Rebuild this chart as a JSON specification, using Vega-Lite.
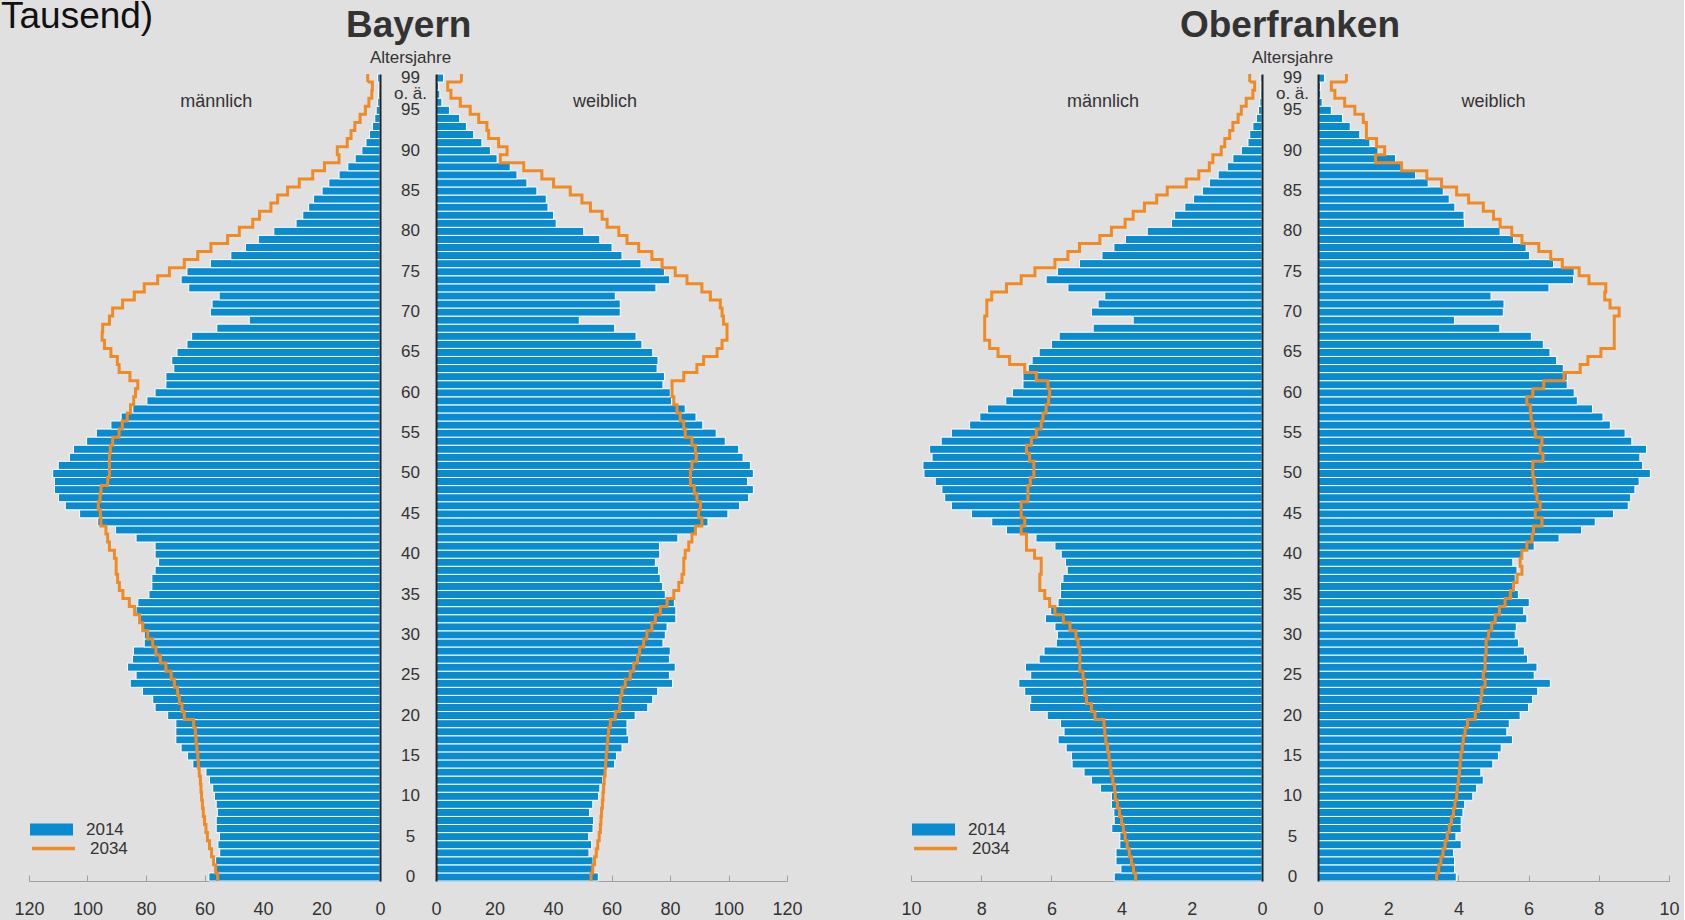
{
"$schema": "https://vega.github.io/schema/vega-lite/v6.json",
"background": "#e0e0e0",
"padding": {"left": 0, "top": -2, "right": 4, "bottom": 4},
"config": {"font": "Liberation Sans", "view": {"stroke": null}, "tick": {"bandSize": 8.07, "thickness": 3}},
"title": {"text": "Tausend)", "anchor": "start", "fontSize": 37, "fontWeight": "normal", "color": "#111111", "offset": -29, "dx": -13},
"datasets": {
"bay": [
{"age":0,"m14":58.5,"m34":55.5,"w14":55.5,"w34":53},
{"age":1,"m14":56.2,"m34":56.2,"w14":53.7,"w34":53.6},
{"age":2,"m14":56.2,"m34":56.9,"w14":53.7,"w34":54.2},
{"age":3,"m14":54.8,"m34":57.6,"w14":52.3,"w34":54.8},
{"age":4,"m14":55.4,"m34":58.3,"w14":53.2,"w34":55.3},
{"age":5,"m14":54.9,"m34":59,"w14":52.2,"w34":55.8},
{"age":6,"m14":56,"m34":59.5,"w14":53.7,"w34":56.2},
{"age":7,"m14":56,"m34":60,"w14":53.9,"w34":56.4},
{"age":8,"m14":55.6,"m34":60.4,"w14":52.5,"w34":56.6},
{"age":9,"m14":56,"m34":60.7,"w14":53.6,"w34":56.9},
{"age":10,"m14":56.6,"m34":61,"w14":55.6,"w34":57.1},
{"age":11,"m14":57.2,"m34":61.2,"w14":56,"w34":57.3},
{"age":12,"m14":58.3,"m34":61.4,"w14":57,"w34":57.5},
{"age":13,"m14":59.5,"m34":61.8,"w14":57.7,"w34":57.8},
{"age":14,"m14":64,"m34":62.1,"w14":61.1,"w34":58},
{"age":15,"m14":65.8,"m34":62.3,"w14":61.7,"w34":58.2},
{"age":16,"m14":68,"m34":62.6,"w14":63.6,"w34":58.5},
{"age":17,"m14":69.8,"m34":62.9,"w14":65.9,"w34":58.7},
{"age":18,"m14":69.8,"m34":63.1,"w14":65.3,"w34":59},
{"age":19,"m14":69.8,"m34":63.7,"w14":65.3,"w34":59.6},
{"age":20,"m14":72.6,"m34":66.9,"w14":68.1,"w34":61.3},
{"age":21,"m14":76.9,"m34":67.7,"w14":72.4,"w34":62.8},
{"age":22,"m14":77.7,"m34":68.6,"w14":74.1,"w34":63},
{"age":23,"m14":81.2,"m34":69.2,"w14":75.8,"w34":63.6},
{"age":24,"m14":85.4,"m34":70.3,"w14":80.9,"w34":64.7},
{"age":25,"m14":83.4,"m34":71.4,"w14":79.8,"w34":66.4},
{"age":26,"m14":86.3,"m34":73.2,"w14":81.8,"w34":67.6},
{"age":27,"m14":84.6,"m34":75.1,"w14":79.8,"w34":68.9},
{"age":28,"m14":84.3,"m34":76.6,"w14":80.1,"w34":69.6},
{"age":29,"m14":80.6,"m34":77.7,"w14":77.6,"w34":71},
{"age":30,"m14":80.6,"m34":79.4,"w14":78.4,"w34":72.1},
{"age":31,"m14":81.7,"m34":81.1,"w14":79,"w34":73.8},
{"age":32,"m14":82.3,"m34":82.2,"w14":82,"w34":75},
{"age":33,"m14":83.4,"m34":83.9,"w14":82,"w34":76.7},
{"age":34,"m14":82.8,"m34":85.7,"w14":81.5,"w34":79},
{"age":35,"m14":79,"m34":87.9,"w14":78.4,"w34":81.3},
{"age":36,"m14":78,"m34":89.1,"w14":77.5,"w34":83},
{"age":37,"m14":78,"m34":89.7,"w14":76.7,"w34":84.1},
{"age":38,"m14":76.9,"m34":90.2,"w14":76.1,"w34":84.7},
{"age":39,"m14":75.7,"m34":90.2,"w14":75,"w34":84.7},
{"age":40,"m14":76.9,"m34":90.8,"w14":76.5,"w34":85.2},
{"age":41,"m14":76.9,"m34":92.5,"w14":76.4,"w34":86.4},
{"age":42,"m14":83.4,"m34":93.1,"w14":82.7,"w34":87.5},
{"age":43,"m14":90.4,"m34":93.7,"w14":89.2,"w34":88.7},
{"age":44,"m14":96.5,"m34":95.4,"w14":93,"w34":90.9},
{"age":45,"m14":102.7,"m34":95.6,"w14":99.8,"w34":89.8},
{"age":46,"m14":107.6,"m34":96.3,"w14":103.8,"w34":90.4},
{"age":47,"m14":109.9,"m34":95.7,"w14":106.9,"w34":89.2},
{"age":48,"m14":111.3,"m34":95.4,"w14":108.5,"w34":88.3},
{"age":49,"m14":111.3,"m34":93.1,"w14":106.5,"w34":87},
{"age":50,"m14":111.9,"m34":92.5,"w14":108.5,"w34":87},
{"age":51,"m14":110,"m34":92.5,"w14":107.5,"w34":87.5},
{"age":52,"m14":106.2,"m34":92.5,"w14":105,"w34":89},
{"age":53,"m14":104.8,"m34":92.2,"w14":103.5,"w34":88.7},
{"age":54,"m14":100.3,"m34":91.4,"w14":98.9,"w34":87.5},
{"age":55,"m14":97,"m34":89.2,"w14":95.8,"w34":85.2},
{"age":56,"m14":92,"m34":88.1,"w14":91.2,"w34":84.7},
{"age":57,"m14":88.5,"m34":86.4,"w14":88.9,"w34":83.5},
{"age":58,"m14":84.5,"m34":85.3,"w14":85.2,"w34":82.4},
{"age":59,"m14":79.7,"m34":84.2,"w14":80.5,"w34":81.3},
{"age":60,"m14":76.9,"m34":83.6,"w14":80.1,"w34":80.7},
{"age":61,"m14":73.2,"m34":82.8,"w14":77.6,"w34":80.7},
{"age":62,"m14":73.2,"m34":85.5,"w14":78.1,"w34":84.7},
{"age":63,"m14":70.5,"m34":89.2,"w14":75.6,"w34":89.2},
{"age":64,"m14":71.2,"m34":89.8,"w14":75.9,"w34":91.5},
{"age":65,"m14":69.4,"m34":92,"w14":74.1,"w34":96.1},
{"age":66,"m14":66,"m34":94.2,"w14":70.4,"w34":97.8},
{"age":67,"m14":64.4,"m34":95,"w14":68.4,"w34":99.5},
{"age":68,"m14":55.8,"m34":94.8,"w14":61.1,"w34":99.5},
{"age":69,"m14":44.7,"m34":92.5,"w14":49,"w34":98.3},
{"age":70,"m14":58,"m34":91.4,"w14":63,"w34":97.8},
{"age":71,"m14":57.4,"m34":88,"w14":63,"w34":97.2},
{"age":72,"m14":55,"m34":84,"w14":61.3,"w34":93.8},
{"age":73,"m14":65.4,"m34":80.6,"w14":75.2,"w34":90.9},
{"age":74,"m14":68,"m34":76,"w14":79.9,"w34":85.8},
{"age":75,"m14":66,"m34":72,"w14":78.1,"w34":81.8},
{"age":76,"m14":58,"m34":66.9,"w14":70.1,"w34":77.3},
{"age":77,"m14":51,"m34":62.3,"w14":63.6,"w34":73.8},
{"age":78,"m14":46,"m34":57.8,"w14":60.2,"w34":69.3},
{"age":79,"m14":41.6,"m34":52.1,"w14":56,"w34":65.3},
{"age":80,"m14":36.3,"m34":48.1,"w14":50.5,"w34":62.5},
{"age":81,"m14":28.7,"m34":43.5,"w14":41.1,"w34":58.5},
{"age":82,"m14":26.4,"m34":41.2,"w14":40.2,"w34":56.8},
{"age":83,"m14":24.4,"m34":37.3,"w14":38.3,"w34":52.8},
{"age":84,"m14":22.7,"m34":35,"w14":37.7,"w34":49.9},
{"age":85,"m14":19.8,"m34":31.6,"w14":34.5,"w34":45.9},
{"age":86,"m14":17.5,"m34":27.6,"w14":31.1,"w34":40.2},
{"age":87,"m14":14,"m34":23,"w14":27.7,"w34":36.2},
{"age":88,"m14":11,"m34":19,"w14":25.4,"w34":30},
{"age":89,"m14":8.5,"m34":14,"w14":20.9,"w34":22},
{"age":90,"m14":6.2,"m34":14.6,"w14":18.6,"w34":24.3},
{"age":91,"m14":4.8,"m34":11.2,"w14":15.7,"w34":21.4},
{"age":92,"m14":3.6,"m34":9.9,"w14":12.9,"w34":18},
{"age":93,"m14":2.6,"m34":8.6,"w14":10.4,"w34":17.4},
{"age":94,"m14":1.8,"m34":6.8,"w14":8.1,"w34":14.6},
{"age":95,"m14":1.3,"m34":5,"w14":4.6,"w34":11.7},
{"age":96,"m14":0.8,"m34":3.8,"w14":2,"w34":8.3},
{"age":97,"m14":0.5,"m34":2.8,"w14":1.3,"w34":5.1},
{"age":98,"m14":0.3,"m34":2.6,"w14":0.9,"w34":4},
{"age":99,"m14":0.8,"m34":4.2,"w14":2.6,"w34":8.7}
],
"obf": [
{"age":0,"m14":4.21,"m34":3.6,"w14":3.94,"w34":3.38},
{"age":1,"m14":4.02,"m34":3.66,"w14":3.89,"w34":3.44},
{"age":2,"m14":4.16,"m34":3.72,"w14":3.89,"w34":3.5},
{"age":3,"m14":4.16,"m34":3.78,"w14":3.86,"w34":3.56},
{"age":4,"m14":4.05,"m34":3.84,"w14":4.08,"w34":3.62},
{"age":5,"m14":4.05,"m34":3.9,"w14":3.93,"w34":3.68},
{"age":6,"m14":4.28,"m34":3.95,"w14":4.08,"w34":3.74},
{"age":7,"m14":4.21,"m34":4.0,"w14":4.08,"w34":3.8},
{"age":8,"m14":4.22,"m34":4.06,"w14":4.13,"w34":3.86},
{"age":9,"m14":4.29,"m34":4.12,"w14":4.18,"w34":3.9},
{"age":10,"m14":4.29,"m34":4.18,"w14":4.41,"w34":3.95},
{"age":11,"m14":4.6,"m34":4.2,"w14":4.52,"w34":3.97},
{"age":12,"m14":4.86,"m34":4.25,"w14":4.71,"w34":4.0},
{"age":13,"m14":5.07,"m34":4.3,"w14":4.64,"w34":4.03},
{"age":14,"m14":5.41,"m34":4.33,"w14":4.98,"w34":4.05},
{"age":15,"m14":5.43,"m34":4.36,"w14":5.14,"w34":4.07},
{"age":16,"m14":5.58,"m34":4.4,"w14":5.22,"w34":4.11},
{"age":17,"m14":5.81,"m34":4.45,"w14":5.54,"w34":4.14},
{"age":18,"m14":5.64,"m34":4.48,"w14":5.38,"w34":4.19},
{"age":19,"m14":5.74,"m34":4.5,"w14":5.45,"w34":4.26},
{"age":20,"m14":6.12,"m34":4.76,"w14":5.76,"w34":4.48},
{"age":21,"m14":6.62,"m34":4.86,"w14":6.0,"w34":4.57},
{"age":22,"m14":6.59,"m34":5.0,"w14":6.11,"w34":4.64},
{"age":23,"m14":6.76,"m34":5.05,"w14":6.26,"w34":4.67},
{"age":24,"m14":6.93,"m34":5.05,"w14":6.62,"w34":4.76},
{"age":25,"m14":6.59,"m34":5.1,"w14":6.16,"w34":4.71},
{"age":26,"m14":6.74,"m34":5.19,"w14":6.24,"w34":4.76},
{"age":27,"m14":6.35,"m34":5.19,"w14":5.97,"w34":4.76},
{"age":28,"m14":6.21,"m34":5.19,"w14":5.88,"w34":4.79},
{"age":29,"m14":5.86,"m34":5.24,"w14":5.71,"w34":4.79},
{"age":30,"m14":5.83,"m34":5.3,"w14":5.62,"w34":4.86},
{"age":31,"m14":5.9,"m34":5.47,"w14":5.65,"w34":4.95},
{"age":32,"m14":6.17,"m34":5.66,"w14":5.95,"w34":5.05},
{"age":33,"m14":6.02,"m34":5.9,"w14":5.86,"w34":5.17},
{"age":34,"m14":5.81,"m34":6.05,"w14":6.02,"w34":5.33},
{"age":35,"m14":5.74,"m34":6.19,"w14":5.71,"w34":5.48},
{"age":36,"m14":5.74,"m34":6.33,"w14":5.62,"w34":5.57},
{"age":37,"m14":5.67,"m34":6.33,"w14":5.62,"w34":5.67},
{"age":38,"m14":5.55,"m34":6.29,"w14":5.67,"w34":5.81},
{"age":39,"m14":5.6,"m34":6.29,"w14":5.55,"w34":5.76},
{"age":40,"m14":5.72,"m34":6.48,"w14":5.86,"w34":5.81},
{"age":41,"m14":5.9,"m34":6.71,"w14":6.16,"w34":5.95},
{"age":42,"m14":6.44,"m34":6.71,"w14":6.87,"w34":6.1},
{"age":43,"m14":7.28,"m34":6.86,"w14":7.51,"w34":6.14},
{"age":44,"m14":7.7,"m34":6.76,"w14":7.9,"w34":6.38},
{"age":45,"m14":8.28,"m34":6.86,"w14":8.42,"w34":6.19},
{"age":46,"m14":8.85,"m34":6.86,"w14":8.84,"w34":6.33},
{"age":47,"m14":9.04,"m34":6.67,"w14":8.91,"w34":6.24},
{"age":48,"m14":9.12,"m34":6.67,"w14":9.03,"w34":6.19},
{"age":49,"m14":9.31,"m34":6.6,"w14":9.15,"w34":6.16},
{"age":50,"m14":9.63,"m34":6.5,"w14":9.47,"w34":6.12},
{"age":51,"m14":9.66,"m34":6.5,"w14":9.25,"w34":6.12},
{"age":52,"m14":9.4,"m34":6.62,"w14":9.17,"w34":6.41},
{"age":53,"m14":9.47,"m34":6.71,"w14":9.36,"w34":6.33},
{"age":54,"m14":9.14,"m34":6.57,"w14":8.94,"w34":6.38},
{"age":55,"m14":8.85,"m34":6.43,"w14":8.75,"w34":6.19},
{"age":56,"m14":8.33,"m34":6.29,"w14":8.33,"w34":6.12},
{"age":57,"m14":8.04,"m34":6.24,"w14":8.12,"w34":6.07},
{"age":58,"m14":7.82,"m34":6.15,"w14":7.82,"w34":6.05},
{"age":59,"m14":7.3,"m34":6.08,"w14":7.39,"w34":5.95},
{"age":60,"m14":7.11,"m34":6.05,"w14":7.3,"w34":6.12},
{"age":61,"m14":6.81,"m34":6.1,"w14":7.1,"w34":6.43},
{"age":62,"m14":6.81,"m34":6.43,"w14":7.1,"w34":7.01},
{"age":63,"m14":6.66,"m34":6.76,"w14":6.99,"w34":7.47},
{"age":64,"m14":6.55,"m34":7.19,"w14":6.8,"w34":7.69},
{"age":65,"m14":6.35,"m34":7.52,"w14":6.61,"w34":8.06},
{"age":66,"m14":6.0,"m34":7.76,"w14":6.42,"w34":8.44},
{"age":67,"m14":5.78,"m34":7.9,"w14":6.08,"w34":8.44},
{"age":68,"m14":4.81,"m34":7.9,"w14":5.18,"w34":8.44},
{"age":69,"m14":3.67,"m34":7.9,"w14":3.89,"w34":8.44},
{"age":70,"m14":4.86,"m34":7.84,"w14":5.28,"w34":8.58},
{"age":71,"m14":4.67,"m34":7.84,"w14":5.3,"w34":8.32},
{"age":72,"m14":4.48,"m34":7.7,"w14":4.93,"w34":8.17},
{"age":73,"m14":5.53,"m34":7.28,"w14":6.58,"w34":8.2},
{"age":74,"m14":6.15,"m34":6.86,"w14":7.28,"w34":7.72},
{"age":75,"m14":5.83,"m34":6.47,"w14":7.3,"w34":7.44},
{"age":76,"m14":5.2,"m34":5.9,"w14":6.71,"w34":6.96},
{"age":77,"m14":4.56,"m34":5.53,"w14":6.03,"w34":6.63},
{"age":78,"m14":4.22,"m34":5.2,"w14":5.93,"w34":6.29},
{"age":79,"m14":3.89,"m34":4.62,"w14":5.57,"w34":5.81},
{"age":80,"m14":3.27,"m34":4.29,"w14":5.19,"w34":5.52},
{"age":81,"m14":2.58,"m34":3.9,"w14":4.17,"w34":5.19},
{"age":82,"m14":2.49,"m34":3.67,"w14":4.16,"w34":5.0},
{"age":83,"m14":2.2,"m34":3.35,"w14":3.9,"w34":4.71},
{"age":84,"m14":1.95,"m34":3.0,"w14":3.74,"w34":4.29},
{"age":85,"m14":1.7,"m34":2.7,"w14":3.57,"w34":3.95},
{"age":86,"m14":1.5,"m34":2.16,"w14":3.14,"w34":3.52},
{"age":87,"m14":1.25,"m34":1.8,"w14":2.78,"w34":3.1},
{"age":88,"m14":0.99,"m34":1.5,"w14":2.38,"w34":2.38},
{"age":89,"m14":0.83,"m34":1.4,"w14":2.21,"w34":1.64},
{"age":90,"m14":0.59,"m34":1.16,"w14":1.71,"w34":1.9},
{"age":91,"m14":0.4,"m34":1.06,"w14":1.48,"w34":1.67},
{"age":92,"m14":0.35,"m34":0.92,"w14":1.19,"w34":1.38},
{"age":93,"m14":0.26,"m34":0.83,"w14":0.92,"w34":1.38},
{"age":94,"m14":0.16,"m34":0.68,"w14":0.7,"w34":1.29},
{"age":95,"m14":0.1,"m34":0.59,"w14":0.38,"w34":1.05},
{"age":96,"m14":0.06,"m34":0.45,"w14":0.12,"w34":0.76},
{"age":97,"m14":0.04,"m34":0.26,"w14":0.08,"w34":0.48},
{"age":98,"m14":0.03,"m34":0.21,"w14":0.07,"w34":0.38},
{"age":99,"m14":0.05,"m34":0.35,"w14":0.19,"w34":0.81}
]
},
"spacing": 97,
"resolve": {"legend": {"fill": "independent", "stroke": "independent"}},
"hconcat": [
{
"title": {"text": "Bayern", "anchor": "start", "fontSize": 37, "fontWeight": "bold", "color": "#333333", "offset": 3, "dx": 332},
"spacing": 56, "bounds": "flush",
"resolve": {"legend": {"fill": "independent", "stroke": "independent"}},
"hconcat": [
{
"width": 351, "height": 807,
"data": {"name": "bay"},
"layer": [
{"mark": {"type": "bar", "stroke": "#ffffff", "strokeWidth": 1},
 "encoding": {
  "y": {"field": "age", "type": "ordinal", "scale": {"domain": [99,98,97,96,95,94,93,92,91,90,89,88,87,86,85,84,83,82,81,80,79,78,77,76,75,74,73,72,71,70,69,68,67,66,65,64,63,62,61,60,59,58,57,56,55,54,53,52,51,50,49,48,47,46,45,44,43,42,41,40,39,38,37,36,35,34,33,32,31,30,29,28,27,26,25,24,23,22,21,20,19,18,17,16,15,14,13,12,11,10,9,8,7,6,5,4,3,2,1,0], "paddingInner": 0, "paddingOuter": 0},
   "axis": {"orient": "right", "labels": false, "ticks": false, "domainColor": "#222222", "domainWidth": 2, "title": null, "zindex": 1}},
  "x": {"field": "m14", "type": "quantitative", "scale": {"domain": [0, 120], "reverse": true, "nice": false},
   "axis": {"values": [0,20,40,60,80,100,120], "grid": false, "domainColor": "#a0a0a0", "tickColor": "#a0a0a0", "tickSize": -6, "labelPadding": 25, "labelFontSize": 18, "labelColor": "#333333", "title": null, "labelFlush": false, "labelOverlap": false}},
  "fill": {"datum": "2014", "scale": {"domain": ["2014"], "range": ["#0a8bd0"]},
   "legend": {"orient": "none", "legendX": 1, "legendY": 734, "title": null, "symbolType": "M-1,-0.28H1V0.28H-1Z", "symbolSize": 1849, "symbolStrokeWidth": 0, "labelOffset": 13, "labelFontSize": 17, "labelColor": "#333333", "padding": 0}}
 }},
{"mark": {"type": "line", "interpolate": "step-before", "strokeWidth": 3},
 "encoding": {"y": {"field": "age", "type": "ordinal", "bandPosition": 1}, "x": {"field": "m34", "type": "quantitative"}, "order": {"field": "age", "type": "quantitative"},
  "stroke": {"datum": "2034", "scale": {"domain": ["2034"], "range": ["#ef8a25"]},
   "legend": {"orient": "none", "legendX": 1, "legendY": 751, "title": null, "symbolType": "M-1,0H1", "symbolSize": 1849, "symbolStrokeWidth": 3.5, "labelOffset": 13, "labelFontSize": 17, "labelColor": "#333333", "padding": 0}}}},
{"mark": {"type": "tick", "color": "#ef8a25"},
 "encoding": {"y": {"field": "age", "type": "ordinal"}, "x": {"field": "m34", "type": "quantitative"}, "opacity": {"condition": {"test": "datum.age == 99", "value": 1}, "value": 0}}},
{"data": {"values": [{}]}, "mark": {"type": "text", "fontSize": 18, "fill": "#333333"},
 "encoding": {"x": {"datum": 56}, "y": {"datum": 96, "type": "ordinal"}, "text": {"value": "männlich"}}}
]
},
{
"width": 351, "height": 807,
"data": {"name": "bay"},
"layer": [
{"mark": {"type": "bar", "stroke": "#ffffff", "strokeWidth": 1},
 "encoding": {
  "y": {"field": "age", "type": "ordinal", "scale": {"domain": [99,98,97,96,95,94,93,92,91,90,89,88,87,86,85,84,83,82,81,80,79,78,77,76,75,74,73,72,71,70,69,68,67,66,65,64,63,62,61,60,59,58,57,56,55,54,53,52,51,50,49,48,47,46,45,44,43,42,41,40,39,38,37,36,35,34,33,32,31,30,29,28,27,26,25,24,23,22,21,20,19,18,17,16,15,14,13,12,11,10,9,8,7,6,5,4,3,2,1,0], "paddingInner": 0, "paddingOuter": 0},
   "axis": {"orient": "left", "values": [0,5,10,15,20,25,30,35,40,45,50,55,60,65,70,75,80,85,90,95,97,99], "labelExpr": "datum.value == 97 ? 'o. ä.' : datum.label", "ticks": false, "domainColor": "#222222", "domainWidth": 2, "labelAlign": "center", "labelBaseline": "middle", "labelPadding": 26, "labelFontSize": 17, "labelColor": "#333333", "labelOverlap": false, "title": "Altersjahre", "titleAngle": 0, "titleAlign": "center", "titleBaseline": "alphabetic", "titleX": -26, "titleY": -12, "titleFontSize": 17, "titleFontWeight": "normal", "titleColor": "#333333", "zindex": 1}},
  "x": {"field": "w14", "type": "quantitative", "scale": {"domain": [0, 120], "nice": false},
   "axis": {"values": [0,20,40,60,80,100,120], "grid": false, "domainColor": "#a0a0a0", "tickColor": "#a0a0a0", "tickSize": -6, "labelPadding": 25, "labelFontSize": 18, "labelColor": "#333333", "title": null, "labelFlush": false, "labelOverlap": false}},
  "fill": {"datum": "2014", "legend": null}
 }},
{"mark": {"type": "line", "interpolate": "step-before", "strokeWidth": 3},
 "encoding": {"y": {"field": "age", "type": "ordinal", "bandPosition": 1}, "x": {"field": "w34", "type": "quantitative"}, "order": {"field": "age", "type": "quantitative"}, "stroke": {"datum": "2034", "legend": null}}},
{"mark": {"type": "tick", "color": "#ef8a25"},
 "encoding": {"y": {"field": "age", "type": "ordinal"}, "x": {"field": "w34", "type": "quantitative"}, "opacity": {"condition": {"test": "datum.age == 99", "value": 1}, "value": 0}}},
{"data": {"values": [{}]}, "mark": {"type": "text", "fontSize": 18, "fill": "#333333"},
 "encoding": {"x": {"datum": 57.8}, "y": {"datum": 96, "type": "ordinal"}, "text": {"value": "weiblich"}}}
]
}
]
},
{
"title": {"text": "Oberfranken", "anchor": "start", "fontSize": 37, "fontWeight": "bold", "color": "#333333", "offset": 3, "dx": 279},
"spacing": 56, "bounds": "flush",
"resolve": {"legend": {"fill": "independent", "stroke": "independent"}},
"hconcat": [
{
"width": 351, "height": 807,
"data": {"name": "obf"},
"layer": [
{"mark": {"type": "bar", "stroke": "#ffffff", "strokeWidth": 1},
 "encoding": {
  "y": {"field": "age", "type": "ordinal", "scale": {"domain": [99,98,97,96,95,94,93,92,91,90,89,88,87,86,85,84,83,82,81,80,79,78,77,76,75,74,73,72,71,70,69,68,67,66,65,64,63,62,61,60,59,58,57,56,55,54,53,52,51,50,49,48,47,46,45,44,43,42,41,40,39,38,37,36,35,34,33,32,31,30,29,28,27,26,25,24,23,22,21,20,19,18,17,16,15,14,13,12,11,10,9,8,7,6,5,4,3,2,1,0], "paddingInner": 0, "paddingOuter": 0},
   "axis": {"orient": "right", "labels": false, "ticks": false, "domainColor": "#222222", "domainWidth": 2, "title": null, "zindex": 1}},
  "x": {"field": "m14", "type": "quantitative", "scale": {"domain": [0, 10], "reverse": true, "nice": false},
   "axis": {"values": [0,2,4,6,8,10], "grid": false, "domainColor": "#a0a0a0", "tickColor": "#a0a0a0", "tickSize": -6, "labelPadding": 25, "labelFontSize": 18, "labelColor": "#333333", "title": null, "labelFlush": false, "labelOverlap": false}},
  "fill": {"datum": "2014",
   "legend": {"orient": "none", "legendX": 1, "legendY": 734, "title": null, "symbolType": "M-1,-0.28H1V0.28H-1Z", "symbolSize": 1849, "symbolStrokeWidth": 0, "labelOffset": 13, "labelFontSize": 17, "labelColor": "#333333", "padding": 0}}
 }},
{"mark": {"type": "line", "interpolate": "step-before", "strokeWidth": 3},
 "encoding": {"y": {"field": "age", "type": "ordinal", "bandPosition": 1}, "x": {"field": "m34", "type": "quantitative"}, "order": {"field": "age", "type": "quantitative"},
  "stroke": {"datum": "2034",
   "legend": {"orient": "none", "legendX": 1, "legendY": 751, "title": null, "symbolType": "M-1,0H1", "symbolSize": 1849, "symbolStrokeWidth": 3.5, "labelOffset": 13, "labelFontSize": 17, "labelColor": "#333333", "padding": 0}}}},
{"mark": {"type": "tick", "color": "#ef8a25"},
 "encoding": {"y": {"field": "age", "type": "ordinal"}, "x": {"field": "m34", "type": "quantitative"}, "opacity": {"condition": {"test": "datum.age == 99", "value": 1}, "value": 0}}},
{"data": {"values": [{}]}, "mark": {"type": "text", "fontSize": 18, "fill": "#333333"},
 "encoding": {"x": {"datum": 4.53}, "y": {"datum": 96, "type": "ordinal"}, "text": {"value": "männlich"}}}
]
},
{
"width": 351, "height": 807,
"data": {"name": "obf"},
"layer": [
{"mark": {"type": "bar", "stroke": "#ffffff", "strokeWidth": 1},
 "encoding": {
  "y": {"field": "age", "type": "ordinal", "scale": {"domain": [99,98,97,96,95,94,93,92,91,90,89,88,87,86,85,84,83,82,81,80,79,78,77,76,75,74,73,72,71,70,69,68,67,66,65,64,63,62,61,60,59,58,57,56,55,54,53,52,51,50,49,48,47,46,45,44,43,42,41,40,39,38,37,36,35,34,33,32,31,30,29,28,27,26,25,24,23,22,21,20,19,18,17,16,15,14,13,12,11,10,9,8,7,6,5,4,3,2,1,0], "paddingInner": 0, "paddingOuter": 0},
   "axis": {"orient": "left", "values": [0,5,10,15,20,25,30,35,40,45,50,55,60,65,70,75,80,85,90,95,97,99], "labelExpr": "datum.value == 97 ? 'o. ä.' : datum.label", "ticks": false, "domainColor": "#222222", "domainWidth": 2, "labelAlign": "center", "labelBaseline": "middle", "labelPadding": 26, "labelFontSize": 17, "labelColor": "#333333", "labelOverlap": false, "title": "Altersjahre", "titleAngle": 0, "titleAlign": "center", "titleBaseline": "alphabetic", "titleX": -26, "titleY": -12, "titleFontSize": 17, "titleFontWeight": "normal", "titleColor": "#333333", "zindex": 1}},
  "x": {"field": "w14", "type": "quantitative", "scale": {"domain": [0, 10], "nice": false},
   "axis": {"values": [0,2,4,6,8,10], "grid": false, "domainColor": "#a0a0a0", "tickColor": "#a0a0a0", "tickSize": -6, "labelPadding": 25, "labelFontSize": 18, "labelColor": "#333333", "title": null, "labelFlush": false, "labelOverlap": false}},
  "fill": {"datum": "2014", "legend": null}
 }},
{"mark": {"type": "line", "interpolate": "step-before", "strokeWidth": 3},
 "encoding": {"y": {"field": "age", "type": "ordinal", "bandPosition": 1}, "x": {"field": "w34", "type": "quantitative"}, "order": {"field": "age", "type": "quantitative"}, "stroke": {"datum": "2034", "legend": null}}},
{"mark": {"type": "tick", "color": "#ef8a25"},
 "encoding": {"y": {"field": "age", "type": "ordinal"}, "x": {"field": "w34", "type": "quantitative"}, "opacity": {"condition": {"test": "datum.age == 99", "value": 1}, "value": 0}}},
{"data": {"values": [{}]}, "mark": {"type": "text", "fontSize": 18, "fill": "#333333"},
 "encoding": {"x": {"datum": 5.0}, "y": {"datum": 96, "type": "ordinal"}, "text": {"value": "weiblich"}}}
]
}
]
}
]
}
